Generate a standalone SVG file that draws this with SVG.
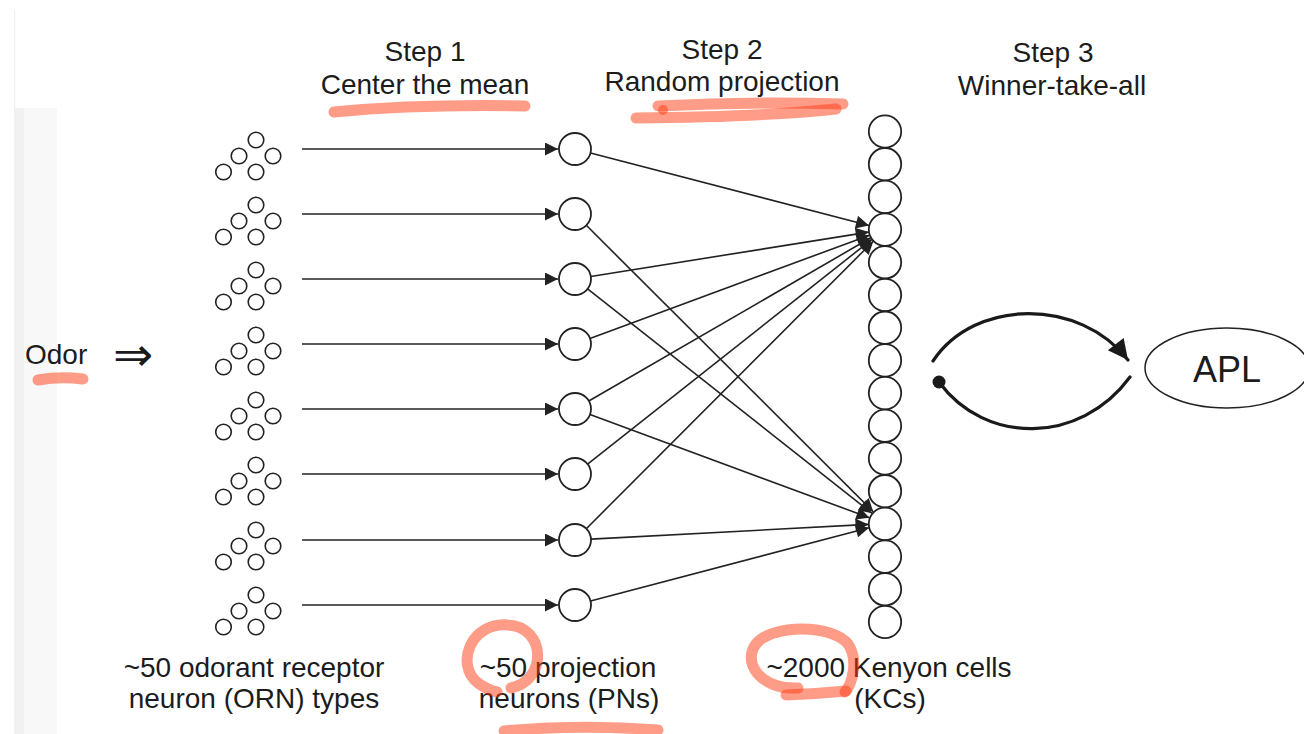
<svg xmlns="http://www.w3.org/2000/svg" width="1304" height="734" viewBox="0 0 1304 734">
<style>
text{font-family:"Liberation Sans",Arial,sans-serif;fill:#1c1c1c;font-size:28px}
.c{text-anchor:middle}
.cell{fill:#fff;stroke:#222;stroke-width:1.8}
.orn{fill:#fff;stroke:#222;stroke-width:1.6}
.edge{stroke:#222;stroke-width:1.6;fill:none;marker-end:url(#ah)}
.mark{fill:none;stroke:#ff3a10;stroke-opacity:0.5;stroke-linecap:round;stroke-linejoin:round;stroke-width:11}
</style>
<defs>
<marker id="ah" markerUnits="userSpaceOnUse" viewBox="0 0 10 10" refX="10" refY="5" markerWidth="15" markerHeight="13" orient="auto"><path d="M0,0 L10,5 L0,10 z" fill="#222"/></marker>
<marker id="ahBig" markerUnits="userSpaceOnUse" viewBox="0 0 10 10" refX="10" refY="5" markerWidth="24" markerHeight="20" orient="auto"><path d="M0,0 L10,5 L0,10 z" fill="#1a1a1a"/></marker>
<g id="cluster">
<circle class="orn" cx="256" cy="0" r="7.8"/>
<circle class="orn" cx="239" cy="16" r="7.8"/>
<circle class="orn" cx="273" cy="16" r="7.8"/>
<circle class="orn" cx="223.5" cy="32" r="7.8"/>
<circle class="orn" cx="256" cy="32" r="7.8"/>
</g>
</defs>
<rect width="1304" height="734" fill="#fff"/>
<g id="background">
<rect x="14" y="10" width="1.2" height="98" fill="#f0f0f0"/>
<rect x="14" y="108" width="43" height="626" fill="#f8f8f8"/>
<rect x="14" y="108" width="10" height="626" fill="#f1f1f1"/>
</g>

<g id="headers">
<text class="c" x="425" y="61">Step 1</text>
<text class="c" x="425" y="94">Center the mean</text>
<text class="c" x="722" y="59">Step 2</text>
<text class="c" x="722" y="91">Random projection</text>
<text class="c" x="1053" y="62">Step 3</text>
<text class="c" x="1052" y="95">Winner-take-all</text>
</g>

<g id="odor">
<text x="25" y="364">Odor</text>
<text x="113" y="371" style="font-family:'DejaVu Sans',sans-serif;font-size:48px">⇒</text>
</g>

<g id="orn-clusters">
<use id="orn1" href="#cluster" y="140"/>
<use id="orn2" href="#cluster" y="205"/>
<use id="orn3" href="#cluster" y="270"/>
<use id="orn4" href="#cluster" y="335"/>
<use id="orn5" href="#cluster" y="400"/>
<use id="orn6" href="#cluster" y="465"/>
<use id="orn7" href="#cluster" y="530"/>
<use id="orn8" href="#cluster" y="595"/>
</g>

<g id="connectors">
<line class="edge" x1="302" y1="149" x2="558" y2="149"/>
<line class="edge" x1="302" y1="214" x2="558" y2="214"/>
<line class="edge" x1="302" y1="279" x2="558" y2="279"/>
<line class="edge" x1="302" y1="344" x2="558" y2="344"/>
<line class="edge" x1="302" y1="409" x2="558" y2="409"/>
<line class="edge" x1="302" y1="474" x2="558" y2="474"/>
<line class="edge" x1="302" y1="540" x2="558" y2="540"/>
<line class="edge" x1="302" y1="605" x2="558" y2="605"/>

<line class="edge" x1="590.5" y1="153" x2="869" y2="225.4"/>
<line class="edge" x1="586.3" y1="225.3" x2="873.3" y2="511.8"/>
<line class="edge" x1="590.8" y1="276.5" x2="868.7" y2="232.1"/>
<line class="edge" x1="587.6" y1="288.9" x2="872" y2="513.3"/>
<line class="edge" x1="590" y1="338.5" x2="869.5" y2="235.2"/>
<line class="edge" x1="588.8" y1="401" x2="870.7" y2="237.8"/>
<line class="edge" x1="590" y1="414.5" x2="869.5" y2="517.8"/>
<line class="edge" x1="587.6" y1="464.1" x2="872" y2="239.3"/>
<line class="edge" x1="586.3" y1="528.7" x2="873.3" y2="241.2"/>
<line class="edge" x1="591" y1="539.1" x2="868.5" y2="524.4"/>
<line class="edge" x1="590.5" y1="600.9" x2="869" y2="527.7"/>

<path d="M933,361 C975,298 1080,298 1128,360" fill="none" stroke="#1a1a1a" stroke-width="3.2" stroke-linecap="round" marker-end="url(#ahBig)"/>
<path d="M939,382 C985,445 1080,445 1130,377" fill="none" stroke="#1a1a1a" stroke-width="3.2" stroke-linecap="round"/>
<circle cx="939" cy="382" r="6.5" fill="#1a1a1a"/>
</g>

<g id="pn-cells">
<circle class="cell" cx="575" cy="149" r="16"/>
<circle class="cell" cx="575" cy="214" r="16"/>
<circle class="cell" cx="575" cy="279" r="16"/>
<circle class="cell" cx="575" cy="344" r="16"/>
<circle class="cell" cx="575" cy="409" r="16"/>
<circle class="cell" cx="575" cy="474" r="16"/>
<circle class="cell" cx="575" cy="540" r="16"/>
<circle class="cell" cx="575" cy="605" r="16"/>
</g>

<g id="kc-cells">
<circle class="cell" cx="885" cy="131.5" r="16.2"/>
<circle class="cell" cx="885" cy="164.2" r="16.2"/>
<circle class="cell" cx="885" cy="196.9" r="16.2"/>
<circle class="cell" cx="885" cy="229.6" r="16.2"/>
<circle class="cell" cx="885" cy="262.3" r="16.2"/>
<circle class="cell" cx="885" cy="295" r="16.2"/>
<circle class="cell" cx="885" cy="327.7" r="16.2"/>
<circle class="cell" cx="885" cy="360.4" r="16.2"/>
<circle class="cell" cx="885" cy="393.1" r="16.2"/>
<circle class="cell" cx="885" cy="425.8" r="16.2"/>
<circle class="cell" cx="885" cy="458.5" r="16.2"/>
<circle class="cell" cx="885" cy="491.2" r="16.2"/>
<circle class="cell" cx="885" cy="523.9" r="16.2"/>
<circle class="cell" cx="885" cy="556.6" r="16.2"/>
<circle class="cell" cx="885" cy="589.3" r="16.2"/>
<circle class="cell" cx="885" cy="622" r="16.2"/>
</g>

<g id="apl">
<ellipse cx="1227" cy="368" rx="82" ry="40" fill="#fff" stroke="#222" stroke-width="1.5"/>
<text class="c" x="1227" y="382" style="font-size:36px">APL</text>
</g>

<g id="labels">
<text class="c" x="254" y="677">~50 odorant receptor</text>
<text class="c" x="254" y="708">neuron (ORN) types</text>
<text class="c" x="568" y="677">~50 projection</text>
<text class="c" x="569" y="708">neurons (PNs)</text>
<text class="c" x="889" y="677">~2000 Kenyon cells</text>
<text class="c" x="890" y="708">(KCs)</text>
</g>

<g id="annotations">
<path class="mark" d="M38,380 Q60,376 83,379" stroke-width="13"/>
<path class="mark" d="M334,112 Q420,104 525,106"/>
<path class="mark" d="M658,106 Q750,101 843,104"/>
<path class="mark" d="M836,109 Q760,117 636,118"/>
<circle cx="663" cy="110" r="5" fill="#ff3a10" fill-opacity="0.5"/>
<path class="mark" d="M511,688 C548,680 546,627 508,625 C470,622 455,665 478,683 C485,688 492,691 497,692"/>
<path class="mark" d="M504,731 Q580,724 658,730" stroke-width="13"/>
<path class="mark" d="M798,688 C760,690 742,662 756,644 C772,624 832,624 848,644 C859,660 852,684 845,692"/>
<path class="mark" d="M846,691 Q815,694 786,695"/>
</g>
</svg>
